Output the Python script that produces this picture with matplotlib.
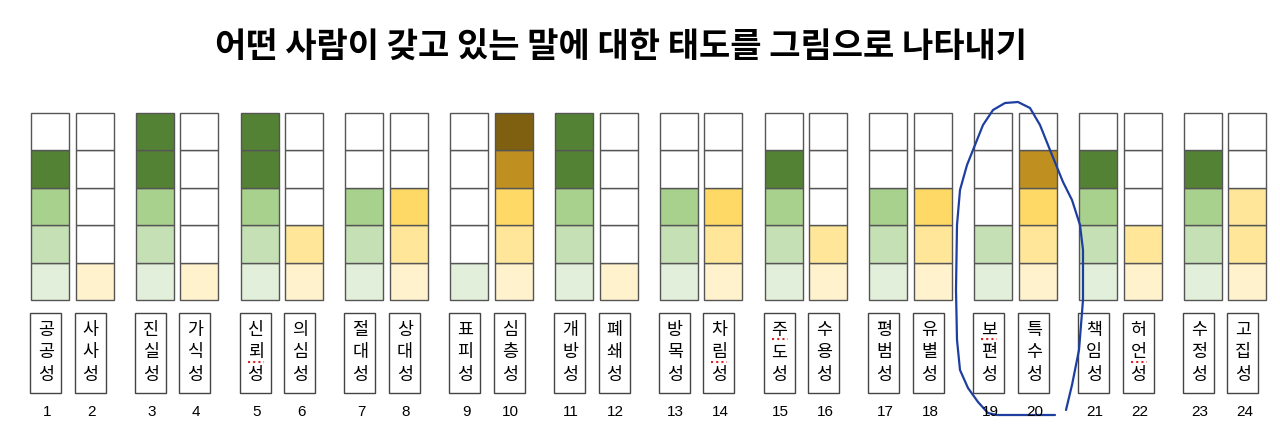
import matplotlib
matplotlib.use("Agg")
import matplotlib.pyplot as plt
from matplotlib.patches import Rectangle

plt.rcParams['font.family'] = ['Noto Sans CJK KR', 'DejaVu Sans']

# data: 24 columns, filled levels (0-5) and colour family
labels = ['공공성', '사사성', '진실성', '가식성', '신뢰성', '의심성', '절대성', '상대성',
          '표피성', '심층성', '개방성', '폐쇄성', '방목성', '차림성', '주도성', '수용성',
          '평범성', '유별성', '보편성', '특수성', '책임성', '허언성', '수정성', '고집성']
levels = [4, 1, 5, 1, 5, 2, 3, 3, 1, 5, 5, 1, 3, 3, 4, 2, 3, 3, 2, 4, 4, 2, 4, 3]
family = ['g', 'y'] * 12
# cells that use a different shade than their position (column -> shade per cell)
shade_override = {24: [0, 1, 1]}
# spell-check marks: column -> index of underlined character
spell_marks = {5: 1, 14: 1, 15: 0, 19: 0, 22: 1}

green = ['#E2EFDA', '#C5E0B4', '#A9D18E', '#548235', '#548235']
yellow = ['#FFF2CC', '#FFE699', '#FFD966', '#BF8F20', '#7F5F10']

title = '어떤 사람이 갖고 있는 말에 대한 태도를 그림으로 나타내기'

# hand drawn loop (annotation) in pixel space
loop_x = [1066, 1072, 1079, 1083, 1083, 1080, 1072, 1063, 1050, 1040, 1030, 1018, 1005,
          993, 983, 975, 967, 960, 957, 956, 957, 960, 968, 978, 988, 997, 1055]
loop_y = [410, 385, 350, 300, 250, 225, 200, 182, 150, 125, 108, 102, 103,
          110, 125, 145, 165, 190, 225, 290, 340, 370, 388, 402, 413, 415, 415]

fig = plt.figure(figsize=(12.8, 4.43), dpi=100)
ax = fig.add_axes([0, 0, 1, 1])
ax.set_xlim(0, 1280)
ax.set_ylim(443, 0)
ax.axis('off')

ax.text(621, 47, title, ha='center', va='center', fontsize=24.5, fontweight='heavy')

cell_w = 38
cell_h = 37.4
top = 113
for i, (lab, lv, fam) in enumerate(zip(labels, levels, family)):
    col = i + 1
    x0 = 31 + 104.8 * (i // 2) + 44.5 * (i % 2)
    pal = green if fam == 'g' else yellow
    shades = shade_override.get(col, list(range(lv)))
    for k in range(5):
        y0 = top + (4 - k) * cell_h
        fc = pal[shades[k]] if k < lv else 'white'
        ax.add_patch(Rectangle((x0, y0), cell_w, cell_h, facecolor=fc,
                               edgecolor='#555555', linewidth=1.0))
    # label box
    ax.add_patch(Rectangle((x0 - 1, 313), 31, 80, facecolor='white',
                           edgecolor='#444444', linewidth=1.0))
    cx = x0 + 15
    for j, ch in enumerate(lab):
        cy = 330 + j * 22.5
        ax.text(cx, cy, ch, ha='center', va='center', fontsize=12.5)
        if spell_marks.get(col) == j:
            ax.plot([cx - 8, cx + 8], [cy + 9, cy + 9], color='#e02020',
                    linestyle=(0, (1, 1.5)), linewidth=1.5)
    ax.text(x0 + 16, 412, str(col), ha='center', va='center', fontsize=11,
            family=['Liberation Sans', 'DejaVu Sans'])

ax.plot(loop_x, loop_y, color='#1f3fa0', linewidth=1.6, solid_joinstyle='round',
        solid_capstyle='round')

fig.savefig('out.png', dpi=100)
